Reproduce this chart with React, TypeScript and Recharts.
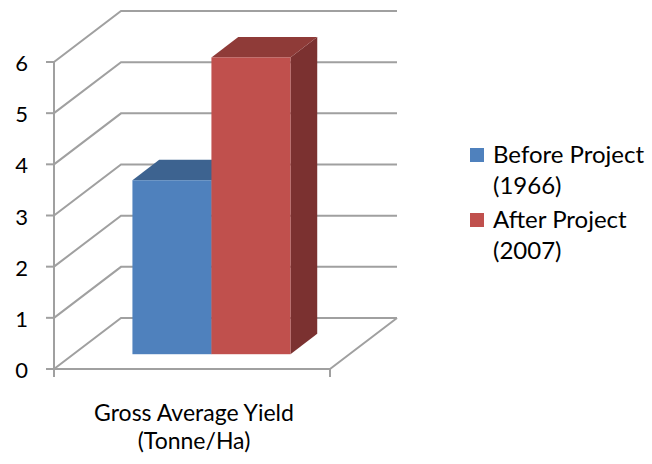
import React from "react";
import { BarChart, Bar, XAxis, YAxis, CartesianGrid, Legend } from "recharts";

const categories = ["Gross Average Yield (Tonne/Ha)"];
const beforeValues = [3.4];
const afterValues = [5.8];
const seriesNames = ["Before Project (1966)", "After Project (2007)"];
const yTicks = [0, 1, 2, 3, 4, 5, 6];

const data = categories.map((name, i) => ({
  name,
  before: beforeValues[i],
  after: afterValues[i],
}));

// oblique depth of the back wall
const DEPTH_X = 67;
const DEPTH_Y = -51;
// where the boxes sit inside the floor depth (fraction front -> back)
const BOX_FRONT = 0.29;
const BOX_BACK = 0.69;

const GRID = "#a0a0a0";
const FONT = "Lato, 'Open Sans', sans-serif";

const faces: Record<string, { front: string; top: string; side: string }> = {
  before: { front: "#4f81bd", top: "#3d6390", side: "#365a86" },
  after: { front: "#c0504d", top: "#8f3b38", side: "#7b3130" },
};

const Box3D = (key: string) => (props: any) => {
  const { x, y, width, height } = props;
  const c = faces[key];
  const fx = x + DEPTH_X * BOX_FRONT;
  const fy = y + DEPTH_Y * BOX_FRONT;
  const dx = DEPTH_X * (BOX_BACK - BOX_FRONT);
  const dy = DEPTH_Y * (BOX_BACK - BOX_FRONT);
  const r = fx + width;
  const b = fy + height;
  return (
    <g>
      <polygon
        points={`${r},${fy} ${r + dx},${fy + dy} ${r + dx},${b + dy} ${r},${b}`}
        fill={c.side}
      />
      <polygon
        points={`${fx},${fy} ${r},${fy} ${r + dx},${fy + dy} ${fx + dx},${fy + dy}`}
        fill={c.top}
      />
      <rect x={fx} y={fy} width={width} height={height} fill={c.front} />
    </g>
  );
};

// each horizontal grid line runs from the front axis up the side wall and across the back wall
const WallLine = (props: any) => {
  const { x1, x2, y1, index } = props;
  const bx1 = x1 + DEPTH_X;
  const bx2 = x2 + DEPTH_X;
  const by = y1 + DEPTH_Y;
  const isFloor = y1 > 360;
  return (
    <g key={`wall-${index}`}>
      <path
        d={`M${x1},${y1} L${bx1},${by} L${bx2},${by}`}
        stroke={GRID}
        strokeWidth={2}
        fill="none"
      />
      {isFloor && (
        <path
          d={`M${x2},${y1} L${bx2},${by} M${x1},${y1} L${x1},${y1 + 8} M${x2},${y1} L${x2},${y1 + 8}`}
          stroke={GRID}
          strokeWidth={2}
          fill="none"
        />
      )}
    </g>
  );
};

const YTick = (props: any) => {
  const { x, y, payload } = props;
  return (
    <text x={x} y={y + 9} textAnchor="end" fontSize={22} fontFamily={FONT} fill="#000">
      {payload.value}
    </text>
  );
};

// category label wrapped onto two lines
const XTick = (props: any) => {
  const { x, payload } = props;
  const [first, second] = String(payload.value).split(" (");
  return (
    <text x={x + 2} y={421} textAnchor="middle" fontSize={23} fontFamily={FONT} fill="#000">
      <tspan x={x + 2}>{first}</tspan>
      <tspan x={x + 2} dy={28}>{`(${second}`}</tspan>
    </text>
  );
};

const LegendBox = (props: any) => {
  const items = [...(props.payload || [])].sort(
    (a: any, b: any) => seriesNames.indexOf(a.value) - seriesNames.indexOf(b.value)
  );
  return (
    <div style={{ fontFamily: FONT, fontSize: 24, color: "#000", lineHeight: "31px", whiteSpace: "nowrap" }}>
      {items.map((entry: any) => {
        const [first, second] = String(entry.value).split(" (");
        const c = faces[entry.dataKey]?.front ?? entry.color;
        return (
          <div key={entry.value} style={{ display: "flex", alignItems: "flex-start", marginBottom: 3 }}>
            <div
              style={{
                width: 14,
                height: 14,
                background: c,
                marginTop: 10,
                marginRight: 9,
                flexShrink: 0,
              }}
            />
            <div>
              <div>{first}</div>
              <div>{`(${second}`}</div>
            </div>
          </div>
        );
      })}
    </div>
  );
};

export default function App() {
  return (
    <div style={{ position: "absolute", left: 0, top: 0, width: 652, height: 464, background: "#fff" }}>
      <BarChart
        width={652}
        height={464}
        data={data}
        margin={{ top: 62, right: 322, bottom: 0, left: 0 }}
        barGap={0}
        barSize={79}
      >
        <CartesianGrid vertical={false} horizontal={WallLine as any} />
        <XAxis
          dataKey="name"
          height={95}
          tickLine={false}
          axisLine={{ stroke: GRID, strokeWidth: 2 }}
          tick={<XTick />}
          interval={0}
        />
        <YAxis
          width={54}
          domain={[0, 6]}
          ticks={yTicks}
          tickSize={8}
          tickMargin={18}
          axisLine={{ stroke: GRID, strokeWidth: 2 }}
          tickLine={{ stroke: GRID, strokeWidth: 2 }}
          tick={<YTick />}
          interval={0}
        />
        <Legend
          layout="vertical"
          align="center"
          verticalAlign="middle"
          wrapperStyle={{ left: 470, top: 138, width: 182 }}
          content={<LegendBox />}
        />
        <Bar dataKey="before" name={seriesNames[0]} fill={faces.before.front} shape={Box3D("before")} isAnimationActive={false} />
        <Bar dataKey="after" name={seriesNames[1]} fill={faces.after.front} shape={Box3D("after")} isAnimationActive={false} />
      </BarChart>
    </div>
  );
}
